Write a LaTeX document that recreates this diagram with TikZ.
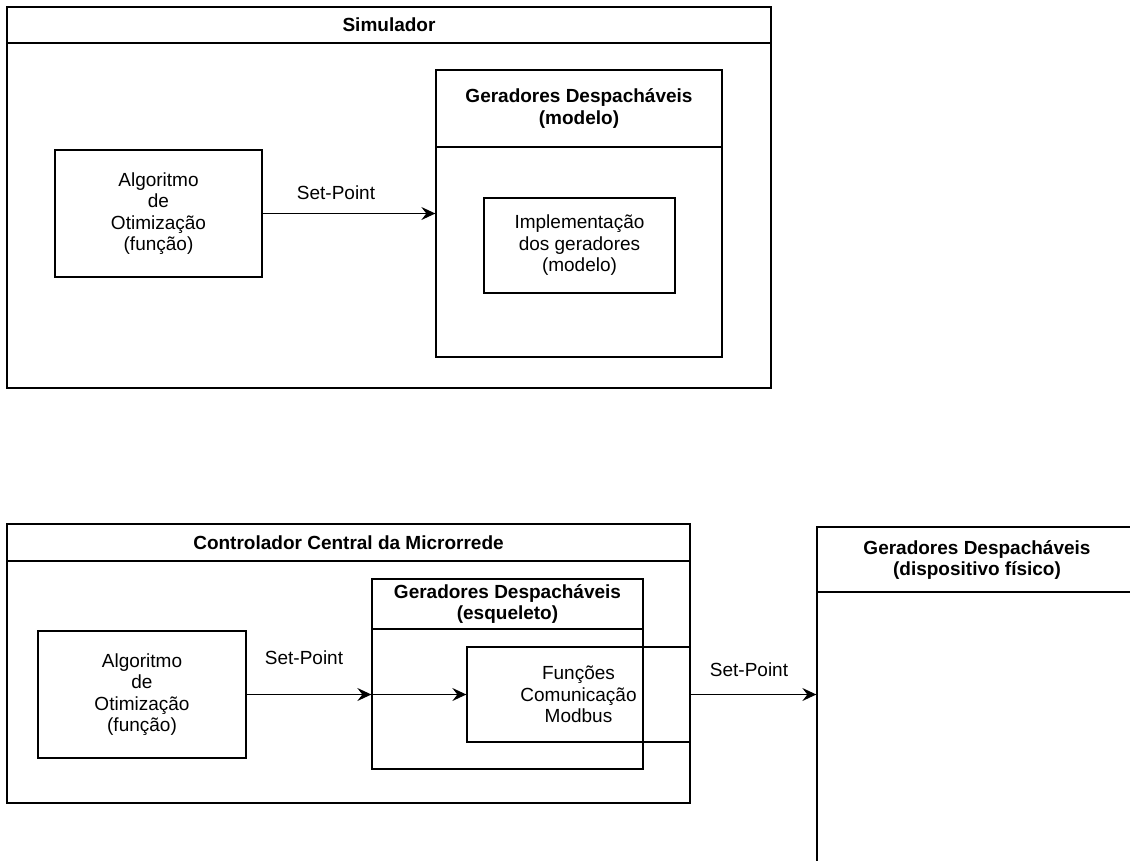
\documentclass[tikz,border=0pt]{standalone}
\usepackage{fontspec}
\setmainfont{Liberation Sans}
\usetikzlibrary{arrows.meta}
\begin{document}
\begin{tikzpicture}[x=1pt,y=-1pt,
  frame/.style={draw, line width=1.3pt, inner sep=0pt, align=center,
    font=\fontsize{19}{21.5}\selectfont},
  header/.style={frame, font=\fontsize{19}{21}\selectfont\bfseries},
  lbl/.style={inner sep=0pt, font=\fontsize{19}{21}\selectfont},
  flow/.style={line width=1.5pt, -{Stealth[length=14pt,width=13pt,inset=5pt]}}
]
\useasboundingbox (0,0) rectangle (1130,860);
\clip (0,0) rectangle (1130,860);

% ---- Simulador ----
\node[frame, minimum width=764, minimum height=381] (sim) at (389,197.5) {};
\node[header, minimum width=764, minimum height=36] (simh) at (389,25) {Simulador};
\node[frame, minimum width=207, minimum height=127] (alg1) at (158.5,213.5)
  {Algoritmo\\de\\Otimização\\(função)};
\node[frame, minimum width=286, minimum height=287] (gen1) at (579,213.5) {};
\node[header, minimum width=286, minimum height=77] (gen1h) at (579,108.5)
  {Geradores Despacháveis\\(modelo)};
\node[frame, minimum width=191, minimum height=95] (imp) at (579.5,245.5)
  {Implementação\\dos geradores\\(modelo)};
\node[lbl] (sp1) at (336,193) {Set-Point};
\draw[flow] (alg1.east) -- (gen1.west |- alg1.east);

% ---- Controlador Central da Microrrede ----
\node[frame, minimum width=683, minimum height=279] (ctrl) at (348.5,663.5) {};
\node[header, minimum width=683, minimum height=37] (ctrlh) at (348.5,542.5)
  {Controlador Central da Microrrede};
\node[frame, minimum width=208, minimum height=127] (alg2) at (142,694.5)
  {Algoritmo\\de\\Otimização\\(função)};
\node[frame, minimum width=271, minimum height=190] (esq) at (507.5,674) {};
\node[header, minimum width=271, minimum height=50] (esqh) at (507.5,604)
  {Geradores Despacháveis\\(esqueleto)};
\node[frame, minimum width=223, minimum height=95] (fun) at (578.5,694.5)
  {Funções\\Comunicação\\Modbus};
\node[lbl] (sp2) at (304,658) {Set-Point};
\draw[flow] (alg2.east) -- (esq.west |- alg2.east);
\draw[flow] (esq.west |- fun.west) -- (fun.west);

% ---- physical device ----
\node[frame, minimum width=320, minimum height=373] (phys) at (977,713.5) {};
\node[header, minimum width=320, minimum height=65] (physh) at (977,559.5)
  {Geradores Despacháveis\\(dispositivo físico)};
\node[lbl] (sp3) at (749,670) {Set-Point};
\draw[flow] (fun.east) -- (phys.west |- fun.east);
\end{tikzpicture}
\end{document}
